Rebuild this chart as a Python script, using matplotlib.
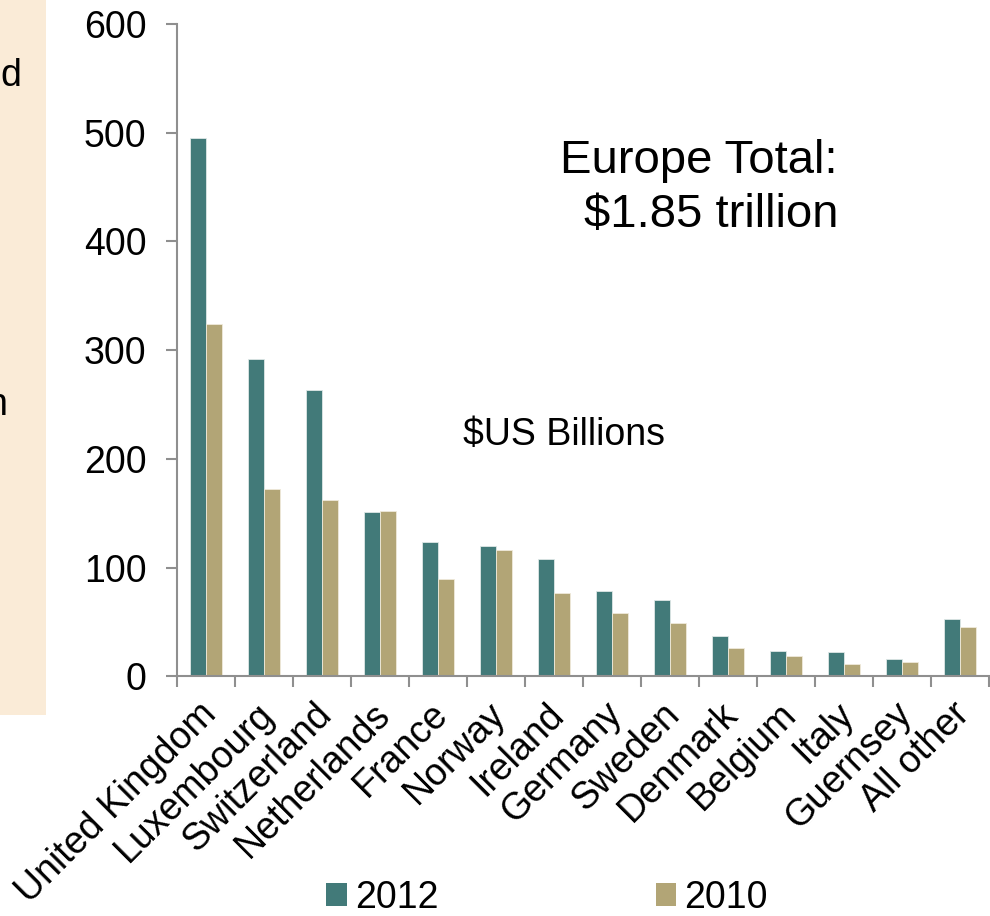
import matplotlib
matplotlib.use("Agg")
import matplotlib.pyplot as plt
import matplotlib.transforms as mtransforms
import numpy as np
from matplotlib.patches import Patch, Rectangle

plt.rcParams['font.family'] = ['Liberation Sans', 'DejaVu Sans']

countries = ["United Kingdom", "Luxembourg", "Switzerland", "Netherlands", "France",
             "Norway", "Ireland", "Germany", "Sweden", "Denmark", "Belgium",
             "Italy", "Guernsey", "All other"]
values_2012 = [495, 292, 263, 151, 124, 120, 108, 79, 70, 37, 23, 22, 16, 53]
values_2010 = [324, 172, 162, 152, 90, 116, 77, 58, 49, 26, 19, 11, 13, 45]
series_labels = ["2012", "2010"]
y_ticks = [0, 100, 200, 300, 400, 500, 600]

TEAL = "#427A79"
TAN = "#B2A576"
AXIS_GREY = "#8F8F8F"
FS = 27

W, H = 990, 916
fig = plt.figure(figsize=(W / 100, H / 100), dpi=100)

# beige side panel, cut off at the left edge
fig.patches.append(Rectangle((0, 1 - 715 / H), 46 / W, 715 / H, transform=fig.transFigure,
                             facecolor="#FAEBD7", edgecolor="none", zorder=0))
fig.text(0 / W, 1 - 86 / H, "d", fontsize=FS, ha="left", va="baseline")
fig.text(7 / W, 1 - 415 / H, "n", fontsize=FS, ha="right", va="baseline")

ax = fig.add_axes((177 / W, 1 - 676.4 / H, 812 / W, 652.4 / H))
x = np.arange(len(countries))
bw = 0.276
ax.bar(x - bw / 2, values_2012, bw, color=TEAL, edgecolor="#dfe8e7", linewidth=0.6,
       label=series_labels[0])
ax.bar(x + bw / 2, values_2010, bw, color=TAN, edgecolor="#efeadb", linewidth=0.6,
       label=series_labels[1])

ax.set_xlim(-0.5, len(countries) - 0.5)
ax.set_ylim(0, 600)
ax.set_yticks(y_ticks)
ax.tick_params(axis="y", labelsize=FS, length=8, width=1.5, color=AXIS_GREY, pad=14)

ax.set_xticks(np.arange(len(countries) + 1) - 0.5)
ax.set_xticklabels([])
ax.tick_params(axis="x", which="major", length=8, width=1.5, color=AXIS_GREY)
ax.set_xticks(x, minor=True)
ax.set_xticklabels(countries, minor=True, rotation=45, ha="right",
                   rotation_mode="anchor", fontsize=FS)
ax.tick_params(axis="x", which="minor", length=0, pad=14)
offset = mtransforms.ScaledTranslation(-6 / 72, 0, fig.dpi_scale_trans)
for lbl in ax.get_xticklabels(minor=True):
    lbl.set_transform(lbl.get_transform() + offset)

for side in ("top", "right"):
    ax.spines[side].set_visible(False)
for side in ("left", "bottom"):
    ax.spines[side].set_color(AXIS_GREY)
    ax.spines[side].set_linewidth(1.5)

fig.text(838 / W, 1 - 227 / H, "Europe Total:\n$1.85 trillion", fontsize=34,
         ha="right", va="baseline", linespacing=1.3, multialignment="right")
fig.text(463 / W, 1 - 445 / H, "$US Billions", fontsize=FS, ha="left", va="baseline")

handles = [Patch(facecolor=TEAL, edgecolor="none"), Patch(facecolor=TAN, edgecolor="none")]
fig.legend(handles, series_labels, loc="center", bbox_to_anchor=(547 / W, 1 - 898 / H),
           ncol=2, frameon=False, fontsize=FS, handlelength=0.55, handleheight=0.55,
           handletextpad=0.22, columnspacing=5.8, borderaxespad=0, borderpad=0)

fig.savefig("out.png", dpi=100)
